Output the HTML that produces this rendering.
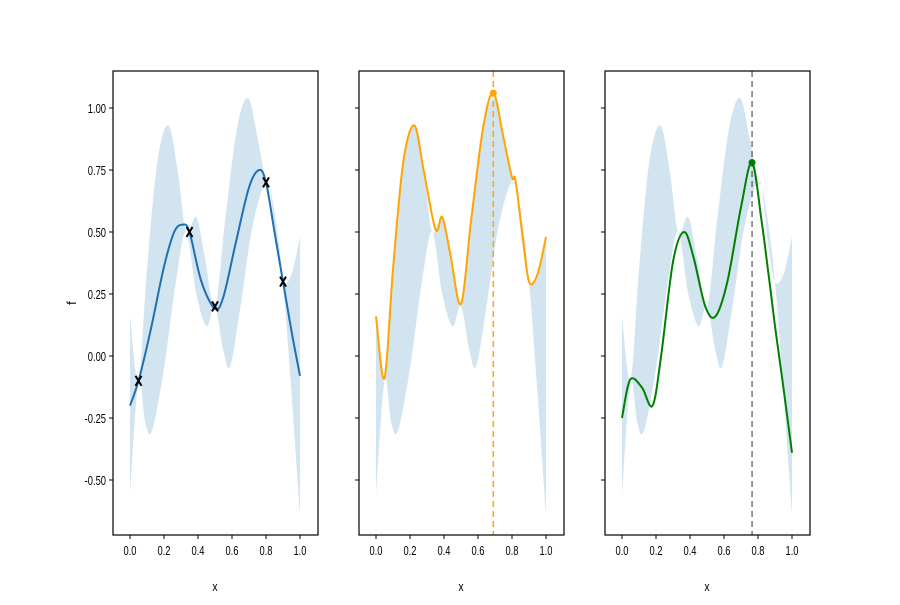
<!DOCTYPE html>
<html><head><meta charset="utf-8"><style>
body{margin:0;background:#fff}
svg text{font-family:"Liberation Sans",sans-serif;font-size:13px;fill:#000}
</style></head><body>
<svg id="s" width="900" height="600" xmlns="http://www.w3.org/2000/svg"></svg>
<script>
const S=document.getElementById('s');
const NS='http://www.w3.org/2000/svg';
function el(t,a,txt){const e=document.createElementNS(NS,t);for(const k in a)e.setAttribute(k,a[k]);if(txt!==undefined)e.textContent=txt;S.appendChild(e);return e;}
const Y=v=>356-v*248;
function cr(pts,X){
  const p=pts.map(q=>[X(q[0]),Y(q[1])]);
  let d='M'+p[0][0].toFixed(1)+','+p[0][1].toFixed(1);
  for(let i=0;i<p.length-1;i++){
    const p0=p[Math.max(0,i-1)],p1=p[i],p2=p[i+1],p3=p[Math.min(p.length-1,i+2)];
    const c1=[p1[0]+(p2[0]-p0[0])/6,p1[1]+(p2[1]-p0[1])/6];
    const c2=[p2[0]-(p3[0]-p1[0])/6,p2[1]-(p3[1]-p1[1])/6];
    d+=`C${c1[0].toFixed(1)},${c1[1].toFixed(1)} ${c2[0].toFixed(1)},${c2[1].toFixed(1)} ${p2[0].toFixed(1)},${p2[1].toFixed(1)}`;
  }
  return d;
}
const up=[[0,0.16],[0.05,-0.1],[0.1,0.35],[0.16,0.78],[0.225,0.93],[0.28,0.75],[0.33,0.5],[0.39,0.56],[0.44,0.4],[0.5,0.2],[0.56,0.55],[0.63,0.92],[0.695,1.04],[0.75,0.88],[0.8,0.7],[0.82,0.69],[0.86,0.45],[0.9,0.3],[0.95,0.33],[1.0,0.48]];
const lo=[[0,-0.56],[0.05,-0.1],[0.09,-0.27],[0.13,-0.3],[0.2,-0.05],[0.27,0.3],[0.33,0.5],[0.39,0.25],[0.45,0.12],[0.5,0.2],[0.55,0.02],[0.59,-0.04],[0.65,0.2],[0.72,0.52],[0.8,0.7],[0.85,0.58],[0.9,0.3],[0.95,-0.15],[1.0,-0.64]];
const mean=[[0,-0.2],[0.05,-0.1],[0.12,0.1],[0.2,0.36],[0.26,0.5],[0.31,0.53],[0.35,0.5],[0.42,0.3],[0.5,0.19],[0.55,0.24],[0.62,0.45],[0.7,0.68],[0.76,0.75],[0.8,0.7],[0.85,0.5],[0.9,0.3],[0.95,0.1],[1.0,-0.08]];
const orange=[[0,0.16],[0.05,-0.09],[0.1,0.35],[0.16,0.78],[0.225,0.93],[0.28,0.75],[0.35,0.51],[0.39,0.56],[0.44,0.4],[0.5,0.21],[0.56,0.55],[0.63,0.92],[0.69,1.06],[0.75,0.88],[0.8,0.72],[0.82,0.71],[0.86,0.5],[0.9,0.3],[0.95,0.33],[1.0,0.48]];
const green=[[0,-0.25],[0.035,-0.12],[0.065,-0.09],[0.12,-0.13],[0.18,-0.2],[0.23,0.0],[0.3,0.38],[0.365,0.5],[0.42,0.4],[0.49,0.2],[0.55,0.16],[0.62,0.3],[0.7,0.6],[0.765,0.78],[0.82,0.55],[0.86,0.34],[0.9,0.12],[0.95,-0.13],[1.0,-0.39]];
const panels=[113,359,605];
function cross(x,y){el('path',{d:`M${x-3},${y-5}L${x+3},${y+5}M${x+3},${y-5}L${x-3},${y+5}`,stroke:'#000','stroke-width':2});}
panels.forEach((L,pi)=>{
  const X=v=>L+17+v*170;
  const d=cr(up,X)+' L'+cr(lo.slice().reverse(),X).slice(1)+'Z';
  el('path',{d:d,fill:'#1f77b4','fill-opacity':0.2,stroke:'none'});
  if(pi==0){
    el('path',{d:cr(mean,X),fill:'none',stroke:'#1f6fb4','stroke-width':2});
    [[0.05,-0.1],[0.35,0.5],[0.5,0.2],[0.8,0.7],[0.9,0.3]].forEach(p=>cross(X(p[0]),Y(p[1])));
  } else if(pi==1){
    el('path',{d:cr(orange,X),fill:'none',stroke:'#ffa500','stroke-width':2});
    el('line',{x1:X(0.69),x2:X(0.69),y1:71,y2:535,stroke:'#ffa500','stroke-width':1.5,'stroke-dasharray':'6,4'});
    el('circle',{cx:X(0.69),cy:Y(1.06),r:3.5,fill:'#ffa500'});
  } else {
    el('path',{d:cr(green,X),fill:'none',stroke:'#008000','stroke-width':2});
    el('line',{x1:X(0.765),x2:X(0.765),y1:71,y2:535,stroke:'#333','stroke-width':1,'stroke-dasharray':'6,4'});
    el('circle',{cx:X(0.765),cy:Y(0.78),r:3.5,fill:'#008000'});
  }
  el('rect',{x:L,y:71,width:205,height:464,fill:'none',stroke:'#000','stroke-width':1.2});
  [1,0.75,0.5,0.25,0,-0.25,-0.5].forEach(v=>{
    el('line',{x1:L-4,x2:L,y1:Y(v),y2:Y(v),stroke:'#000'});
    if(pi==0) el('text',{x:L-7,y:Y(v)+5,'text-anchor':'end',transform:`translate(${L-7},0) scale(0.72,1) translate(${-(L-7)},0)`},v.toFixed(2));
  });
  [0,0.2,0.4,0.6,0.8,1].forEach(v=>{
    el('line',{x1:X(v),x2:X(v),y1:535,y2:539,stroke:'#000'});
    el('text',{x:X(v),y:555,'text-anchor':'middle',transform:`translate(${X(v)},0) scale(0.72,1) translate(${-X(v)},0)`},v.toFixed(1));
  });
  el('text',{x:L+102,y:591,'text-anchor':'middle',transform:`translate(${L+102},0) scale(0.8,1) translate(${-(L+102)},0)`},'x');
});
el('text',{x:76,y:303,'text-anchor':'middle',transform:'rotate(-90 76 303)'},'f');
</script>
</body></html>
